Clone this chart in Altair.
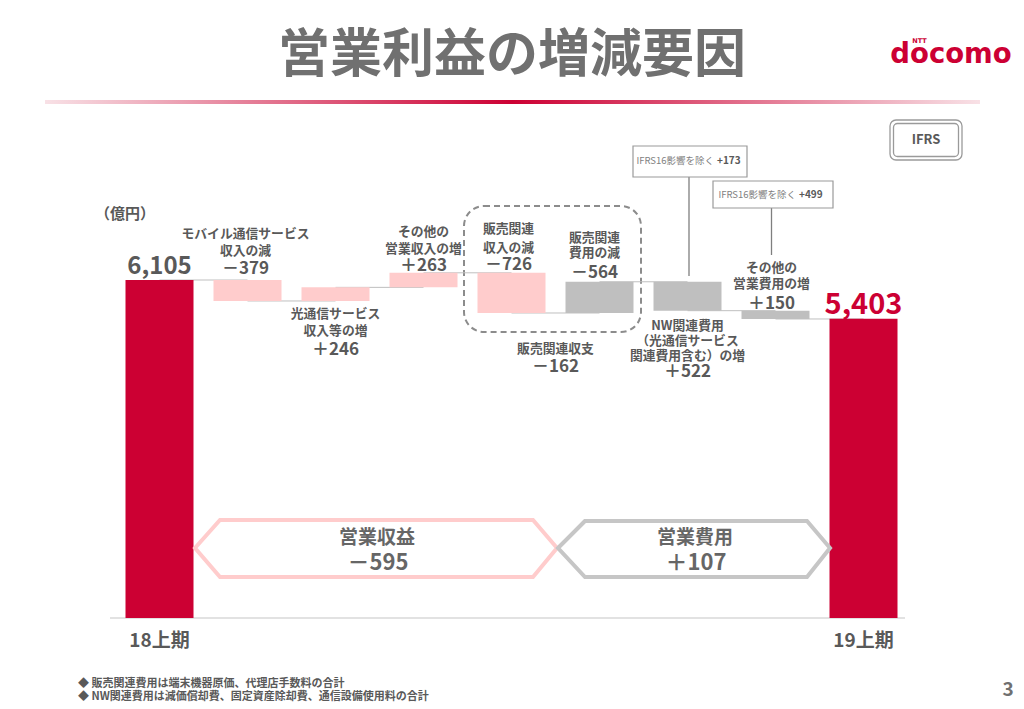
import altair as alt
import pandas as pd

# ---------------- data ----------------
steps = ["18上期", "モバイル通信サービス収入の減", "光通信サービス収入等の増", "その他の営業収入の増",
         "販売関連収入の減", "販売関連費用の減", "NW関連費用の増", "その他の営業費用の増", "19上期"]
start_value = 6105
end_value = 5403
changes = [-379, 246, 263, -726, -564, 522, 150]          # reported change of each item (億円)
item_kind = ["rev", "rev", "rev", "rev", "cost", "cost", "cost"]
label_lines = [
    ["モバイル通信サービス", "収入の減"],
    ["光通信サービス", "収入等の増"],
    ["その他の", "営業収入の増"],
    ["販売関連", "収入の減"],
    ["販売関連", "費用の減"],
    ["NW関連費用", "（光通信サービス", "関連費用含む）の増"],
    ["その他の", "営業費用の増"],
]
period_labels = ["18上期", "19上期"]
subtotal_names = ["営業収益", "営業費用"]
subtotal_values = [-595, 107]
sales_net_name = "販売関連収支"
sales_net_value = -162
ifrs_values = [173, 499]
footnotes = ["◆ 販売関連費用は端末機器原価、代理店手数料の合計",
             "◆ NW関連費用は減価償却費、固定資産除却費、通信設備使用料の合計"]
title = "営業利益の増減要因"
unit = "（億円）"

# ---------------- layout / style ----------------
FONT = "Noto Sans CJK JP"
DARK = "#595959"
RED = "#CC0033"
PINK = "#FFCCCC"
GRAY = "#BFBFBF"

W, H = 1008, 693
SLOT = 88.0
X0 = 151.5          # chart-x of first step centre
BASE = 610.0        # chart-y of zero
PPU = 338.0 / 6105  # pixels per 億円


def xs():
    return alt.Scale(domain=[-X0 / SLOT, (W - X0) / SLOT], nice=False, zero=False, padding=0)


def vs():
    return alt.Scale(domain=[-(H - BASE) / PPU, BASE / PPU], nice=False, zero=False, padding=0)


def pxs():
    return alt.Scale(domain=[0, W], nice=False, zero=False, padding=0)


def pys():
    return alt.Scale(domain=[0, H], reverse=True, nice=False, zero=False, padding=0)


def fmt(v):
    return ("＋" if v > 0 else "－") + str(abs(v))


one = pd.DataFrame({"a": [0]})

# ---------------- waterfall data ----------------
effects = [c if k == "rev" else -c for c, k in zip(changes, item_kind)]
rows = [dict(i=0, y0=0, y1=start_value, kind="total")]
level = start_value
for j, e in enumerate(effects):
    rows.append(dict(i=j + 1, y0=level, y1=level + e, kind=item_kind[j]))
    level += e
rows.append(dict(i=len(steps) - 1, y0=0, y1=end_value, kind="total"))
bars = pd.DataFrame(rows)
bars["step"] = steps

conn = pd.DataFrame([dict(x0=r["i"], x1=r["i"] + 1, lv=r["y1"]) for r in rows[:-1]])

# ---------------- labels ----------------
item_label_y = [[234, 250.5, 268.5], [313.5, 331, 350], [232, 249, 266], [228.5, 247.5, 265],
                [237.5, 252.5, 272.5], [326, 341, 356, 371.5], [267.5, 283.5, 303.5]]
item_label_dx = [-2, 0, 0, -3, -5, 0, -4]
lab = []
for j, lines in enumerate(label_lines):
    texts = lines + [fmt(changes[j])]
    for t, yy in zip(texts, item_label_y[j]):
        lab.append(dict(xi=j + 1 + item_label_dx[j] / SLOT, py=yy - 8, t=t,
                        fs=17 if t == texts[-1] else 12.8, c=DARK))
lab.append(dict(xi=4.5, py=348.5 - 8, t=sales_net_name, fs=12.8, c=DARK))
lab.append(dict(xi=4.5, py=366.5 - 8, t=fmt(sales_net_value), fs=17, c=DARK))
lab.append(dict(xi=0, py=266.5 - 8, t=f"{start_value:,}", fs=24, c=DARK))
lab.append(dict(xi=len(steps) - 1, py=304.5 - 8, t=f"{end_value:,}", fs=29, c=RED))
lab.append(dict(xi=0, py=641 - 8, t=period_labels[0], fs=19, c=DARK))
lab.append(dict(xi=len(steps) - 1, py=641 - 8, t=period_labels[1], fs=19, c=DARK))
labels = pd.DataFrame(lab)

# ---------------- chevrons ----------------
pts = []
shapes = [("rev", "#FFCCCC", [(187, 540), (212, 512), (525, 512), (549, 540), (525, 569), (212, 569)]),
          ("cost", "#C6C6C6", [(550, 540), (577, 513), (799, 513), (822, 540), (799, 569), (577, 569)])]
for name, col, p in shapes:
    for k, (a, b) in enumerate(p + [p[0], p[1]]):
        pts.append(dict(shape=name, c=col, k=k, px=a, py=b))
chev = pd.DataFrame(pts)

layers = []

# gradient rule under title
layers.append(alt.Chart(one).mark_rect(
    color=alt.Gradient(gradient="linear",
                       stops=[alt.GradientStop(color="#F8E1E6", offset=0),
                              alt.GradientStop(color="#CC0033", offset=0.5),
                              alt.GradientStop(color="#F8E1E6", offset=1)],
                       x1=0, x2=1, y1=0, y2=0)
).encode(x=alt.value(37), x2=alt.value(972), y=alt.value(92), y2=alt.value(96)))

# title
layers.append(alt.Chart(one).mark_text(text=title, font=FONT, fontSize=52, fontWeight="bold",
                                       color="#707070", align="center", baseline="middle")
              .encode(x=alt.value(504), y=alt.value(48)))
# logo
layers.append(alt.Chart(one).mark_text(text="docomo", font="DejaVu Sans", fontSize=27.5, fontWeight="bold",
                                       color=RED, align="center", baseline="alphabetic")
              .encode(x=alt.value(943), y=alt.value(55)))
layers.append(alt.Chart(one).mark_text(text="NTT", font="DejaVu Sans", fontSize=6.5, fontWeight="bold",
                                       color=RED, align="center", baseline="bottom")
              .encode(x=alt.value(911.5), y=alt.value(36)))

# IFRS badge
layers.append(alt.Chart(one).mark_rect(fillOpacity=0, stroke="#9A9A9A", strokeWidth=1.3, cornerRadius=6)
              .encode(x=alt.value(882), x2=alt.value(954), y=alt.value(112), y2=alt.value(152)))
layers.append(alt.Chart(one).mark_rect(fillOpacity=0, stroke="#9A9A9A", strokeWidth=1.3, cornerRadius=4)
              .encode(x=alt.value(885.5), x2=alt.value(950.5), y=alt.value(115.5), y2=alt.value(148.5)))
layers.append(alt.Chart(one).mark_text(text="IFRS", font=FONT, fontSize=13, fontWeight="bold",
                                       color=DARK, align="center", baseline="middle")
              .encode(x=alt.value(918), y=alt.value(132)))

# IFRS16 callouts
callouts = [(625, 739, 138, 169, 706, 153, 681, 268), (705, 825, 173, 200, 788, 186.5, 763.5, 247)]
for (bx0, bx1, by0, by1, tx, ty, lx, ly), v in zip(callouts, ifrs_values):
    layers.append(alt.Chart(one).mark_rule(color="#7F7F7F", strokeWidth=1.3)
                  .encode(x=alt.value(lx), y=alt.value(by1), y2=alt.value(ly)))
    layers.append(alt.Chart(one).mark_rect(fill="white", stroke="#9A9A9A", strokeWidth=1.2)
                  .encode(x=alt.value(bx0), x2=alt.value(bx1), y=alt.value(by0), y2=alt.value(by1)))
    layers.append(alt.Chart(one).mark_text(text="IFRS16影響を除く", font=FONT, fontSize=9.5,
                                           color="#7F7F7F", align="right", baseline="middle")
                  .encode(x=alt.value(tx), y=alt.value(ty)))
    layers.append(alt.Chart(one).mark_text(text=f"+{v}", font=FONT, fontSize=10, fontWeight="bold",
                                           color=DARK, align="left", baseline="middle")
                  .encode(x=alt.value(tx + 3), y=alt.value(ty)))

# dashed group box
layers.append(alt.Chart(one).mark_rect(fillOpacity=0, stroke="#8C8C8C", strokeWidth=2,
                                       strokeDash=[6, 4], cornerRadius=20)
              .encode(x=alt.value(456), x2=alt.value(633), y=alt.value(198), y2=alt.value(324)))

# baseline
layers.append(alt.Chart(one).mark_rule(color="#D9D9D9", strokeWidth=1.5)
              .encode(x=alt.value(102), x2=alt.value(897), y=alt.value(BASE)))

# connectors and bars
layers.append(alt.Chart(conn).mark_rule(color=GRAY, strokeWidth=1).encode(
    x=alt.X("x0:Q", scale=xs(), axis=None), x2="x1:Q",
    y=alt.Y("lv:Q", scale=vs(), axis=None)))
layers.append(alt.Chart(bars).mark_bar(size=68).encode(
    x=alt.X("i:Q", scale=xs(), axis=None),
    y=alt.Y("y0:Q", scale=vs(), axis=None), y2="y1:Q",
    color=alt.Color("kind:N", scale=alt.Scale(domain=["total", "rev", "cost"],
                                              range=[RED, PINK, GRAY]), legend=None)))

# chevrons
layers.append(alt.Chart(chev).mark_line(strokeWidth=4, strokeJoin="miter").encode(
    x=alt.X("px:Q", scale=pxs(), axis=None), y=alt.Y("py:Q", scale=pys(), axis=None),
    color=alt.Color("c:N", scale=None), detail="shape:N", order="k:Q"))
for (cx, name, v) in [(369, subtotal_names[0], subtotal_values[0]), (687, subtotal_names[1], subtotal_values[1])]:
    layers.append(alt.Chart(one).mark_text(text=name, font=FONT, fontSize=19, fontWeight="bold",
                                           color="#666666", align="center", baseline="middle")
                  .encode(x=alt.value(cx), y=alt.value(529.5)))
    layers.append(alt.Chart(one).mark_text(text=fmt(v), font=FONT, fontSize=22, fontWeight="bold",
                                           color="#666666", align="center", baseline="middle")
                  .encode(x=alt.value(cx + 1), y=alt.value(555)))

# labels
layers.append(alt.Chart(labels).mark_text(font=FONT, fontWeight="bold", align="center", baseline="middle").encode(
    x=alt.X("xi:Q", scale=xs(), axis=None), y=alt.Y("py:Q", scale=pys(), axis=None),
    text="t:N", size=alt.Size("fs:Q", scale=None), color=alt.Color("c:N", scale=None)))

# unit
layers.append(alt.Chart(one).mark_text(text=unit, font=FONT, fontSize=15, fontWeight="bold",
                                       color=DARK, align="center", baseline="middle")
              .encode(x=alt.value(117), y=alt.value(205.5)))

# footnotes and page number
for k, f in enumerate(footnotes):
    layers.append(alt.Chart(one).mark_text(text=f, font=FONT, fontSize=11, fontWeight="bold",
                                           color=DARK, align="left", baseline="middle")
                  .encode(x=alt.value(70), y=alt.value(676 + 13 * k)))
layers.append(alt.Chart(one).mark_text(text="3", font=FONT, fontSize=19, fontWeight="bold",
                                       color="#707070", align="center", baseline="middle")
              .encode(x=alt.value(1000), y=alt.value(682)))

chart = alt.layer(*layers).resolve_scale(
    x="independent", y="independent", color="independent", size="independent"
).properties(width=W, height=H, padding=0, background="white").configure_view(stroke=None)

chart.save("out.html", embed_options={"renderer": "svg", "actions": False})
